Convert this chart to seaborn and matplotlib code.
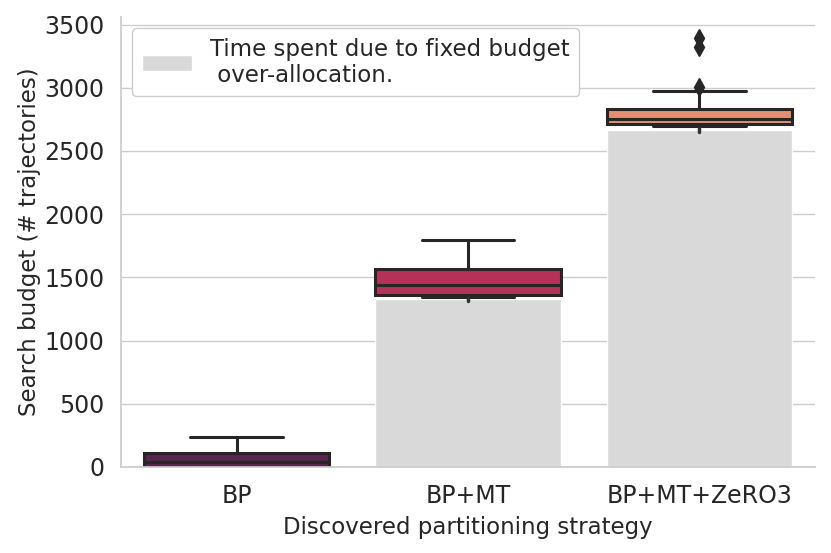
import numpy as np
import pandas as pd
import matplotlib
matplotlib.use("Agg")
import matplotlib.pyplot as plt
import seaborn as sns
from matplotlib.patches import Patch

# strategies on the x axis
strategies = ["BP", "BP+MT", "BP+MT+ZeRO3"]

# search budget per run (# trajectories)
bp_runs = [0, 0, 3, 18, 40, 65, 112, 150, 237]
bp_mt_runs = [1345, 1352, 1360, 1400, 1440, 1500, 1563, 1650, 1793]
bp_mt_zero3_runs = [2695, 2700, 2706, 2712, 2717, 2725, 2735, 2742, 2749,
                    2765, 2790, 2810, 2828, 2975, 3004, 3320, 3390]

# time spent due to the fixed budget over-allocation (grey bars)
bp_fixed = [0, 0, 0]
bp_mt_fixed = [1316, 1326, 1336]
bp_mt_zero3_fixed = [2650, 2664, 2678]

legend_label = "Time spent due to fixed budget\n over-allocation."

runs = pd.DataFrame({
    "strategy": [strategies[0]] * len(bp_runs)
    + [strategies[1]] * len(bp_mt_runs)
    + [strategies[2]] * len(bp_mt_zero3_runs),
    "budget": bp_runs + bp_mt_runs + bp_mt_zero3_runs,
})
fixed = pd.DataFrame({
    "strategy": [strategies[0]] * len(bp_fixed)
    + [strategies[1]] * len(bp_mt_fixed)
    + [strategies[2]] * len(bp_mt_zero3_fixed),
    "budget": bp_fixed + bp_mt_fixed + bp_mt_zero3_fixed,
})

sns.set_theme(style="whitegrid")
plt.rcParams.update({
    "font.family": ["DejaVu Sans"],
    "font.size": 16.5,
    "axes.labelsize": 16.5,
    "xtick.labelsize": 17,
    "ytick.labelsize": 17,
    "legend.fontsize": 16.5,
    "axes.edgecolor": ".8",
    "grid.color": ".8",
})

fig, ax = plt.subplots(figsize=(8.31, 5.53), dpi=100)
fig.subplots_adjust(left=121 / 831, right=815 / 831, top=1 - 17 / 553, bottom=1 - 467 / 553)

sns.boxplot(data=runs, x="strategy", y="budget", hue="strategy", order=strategies,
            palette="rocket", legend=False, linewidth=2.2, linecolor=".15",
            flierprops={"marker": "d", "markersize": 9, "markerfacecolor": ".15",
                        "markeredgecolor": ".15"}, ax=ax)
sns.barplot(data=fixed, x="strategy", y="budget", order=strategies, color="#d9d9d9",
            saturation=1, errorbar="sd", err_kws={"color": ".2", "linewidth": 2.5}, ax=ax)

ax.set_xlabel("Discovered partitioning strategy", labelpad=6)
ax.set_ylabel("Search budget (# trajectories)", labelpad=2)
ax.set_yticks(np.arange(0, 3501, 500))
ax.tick_params(length=0, pad=12)
sns.despine(ax=ax)

ax.legend(handles=[Patch(facecolor="#d9d9d9", label=legend_label)], loc="upper left",
          handlelength=2.2, frameon=True, framealpha=1, edgecolor=".8")

fig.savefig("out.png", dpi=100)
